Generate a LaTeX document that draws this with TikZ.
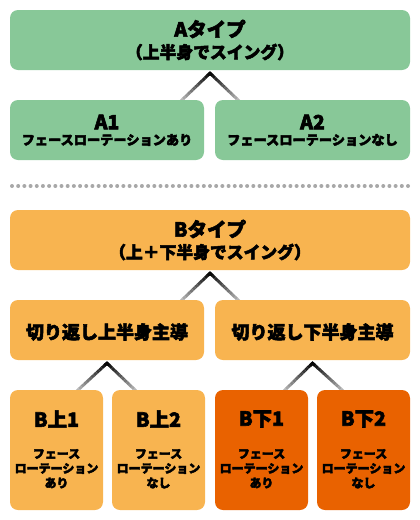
\documentclass[tikz,border=0pt]{standalone}
\usepackage{fontspec}
\setmainfont{Noto Sans CJK JP}[BoldFeatures={FakeBold=3}]
\usetikzlibrary{calc,backgrounds}
\definecolor{grn}{RGB}{136,200,152}
\definecolor{lor}{RGB}{248,180,80}
\definecolor{dor}{RGB}{233,98,0}
\definecolor{dotg}{RGB}{168,168,168}
\newcommand\gradconn[2]{%
  \foreach \k in {0,...,11}{%
    \pgfmathsetmacro\pa{\k/12*1.06}%
    \pgfmathsetmacro\pb{(\k+1)/12*1.06}%
    \pgfmathsetmacro\pc{100-75*(\k+0.5)/12}%
    \draw[line width=3pt,color=black!\pc!white] ($(#1)!\pa!(#2)$) -- ($(#1)!\pb!(#2)$);
  }%
}
\newcommand\apexconn[3]{%
  \draw[line width=3pt,color=black,line join=miter] ($(#1)!0.09!(#2)$) -- (#1) -- ($(#1)!0.09!(#3)$);
  \gradconn{#1}{#2}\gradconn{#1}{#3}%
}
\begin{document}
\begin{tikzpicture}[x=1pt,y=-1pt,
  box/.style={rounded corners=8pt,inner sep=0pt,draw=none},
  ttl/.style={font=\bfseries\fontsize{19.5}{21}\selectfont,inner sep=0pt},
  subt/.style={font=\bfseries\fontsize{16.8}{18}\selectfont,inner sep=0pt},
  mid/.style={font=\bfseries\fontsize{18}{20}\selectfont,inner sep=0pt},
  sma/.style={font=\bfseries\fontsize{13.2}{15}\selectfont,inner sep=0pt},
  tiny/.style={font=\bfseries\fontsize{12}{14}\selectfont,inner sep=0pt}]
\useasboundingbox (0,0) rectangle (420,520);
% A part
\node[box,fill=grn,minimum width=400pt,minimum height=60pt] (top) at (210,40) {};
\node[ttl] (topt1) at (210,29) {Aタイプ};
\node[subt] (topt2) at (210,52) {（上半身でスイング）};
\node[box,fill=grn,minimum width=194pt,minimum height=60pt] (a1) at (107,130) {};
\node[ttl] (a1t1) at (107,122) {A1};
\node[sma] (a1t2) at (107,140) {フェースローテーションあり};
\node[box,fill=grn,minimum width=195pt,minimum height=60pt] (a2) at (312.5,130) {};
\node[ttl] (a2t1) at (312.5,122) {A2};
\node[sma] (a2t2) at (312.5,140) {フェースローテーションなし};
% dotted separator
\foreach \i in {0,...,64}{\fill[dotg] (12+\i*6.1875,186) circle (2pt);}
% B part
\node[box,fill=lor,minimum width=400pt,minimum height=60pt] (btop) at (210,240) {};
\node[ttl] (bt1) at (210,229) {Bタイプ};
\node[subt] (bt2) at (210,252) {（上＋下半身でスイング）};
\node[box,fill=lor,minimum width=194pt,minimum height=60pt] (bu) at (107,330) {};
\node[mid] (but) at (107,332) {切り返し上半身主導};
\node[box,fill=lor,minimum width=195pt,minimum height=60pt] (bd) at (312.5,330) {};
\node[mid] (bdt) at (312.5,332) {切り返し下半身主導};
\node[box,fill=lor,minimum width=93pt,minimum height=120pt] (bu1) at (56.5,450) {};
\node[box,fill=lor,minimum width=93pt,minimum height=120pt] (bu2) at (158.5,450) {};
\node[box,fill=dor,minimum width=93pt,minimum height=120pt] (bd1) at (261.5,450) {};
\node[box,fill=dor,minimum width=93pt,minimum height=120pt] (bd2) at (363.5,450) {};
\node[ttl] (bu1t) at (56.5,419) {B上1};
\node[ttl] (bu2t) at (158.5,419) {B上2};
\node[ttl] (bd1t) at (261.5,419) {B下1};
\node[ttl] (bd2t) at (363.5,419) {B下2};
\foreach \n/\x/\l in {p1/56.5/あり,p2/158.5/なし,p3/261.5/あり,p4/363.5/なし}{
  \node[tiny] (\n a) at (\x,454) {フェース};
  \node[tiny] (\n b) at (\x,468.5) {ローテーション};
  \node[tiny] (\n c) at (\x,483) {\l};
}
% connectors
\begin{pgfonlayer}{background}
  \coordinate (ca) at ([yshift=-3pt]top.south);
  \coordinate (fa1) at ([xshift=-22pt]a1.north east);
  \coordinate (fa2) at ([xshift=23pt]a2.north west);
  \apexconn{ca}{fa1}{fa2}
  \coordinate (cb) at ([yshift=-3pt]btop.south);
  \coordinate (fbu) at ([xshift=-22pt]bu.north east);
  \coordinate (fbd) at ([xshift=23pt]bd.north west);
  \apexconn{cb}{fbu}{fbd}
  \coordinate (cu) at ([yshift=-3pt]bu.south);
  \coordinate (fu1) at ([xshift=-25pt]bu1.north east);
  \coordinate (fu2) at ([xshift=23pt]bu2.north west);
  \apexconn{cu}{fu1}{fu2}
  \coordinate (cd) at ([yshift=-3pt]bd.south);
  \coordinate (fd1) at ([xshift=-23pt]bd1.north east);
  \coordinate (fd2) at ([xshift=25pt]bd2.north west);
  \apexconn{cd}{fd1}{fd2}
\end{pgfonlayer}
\end{tikzpicture}
\end{document}
